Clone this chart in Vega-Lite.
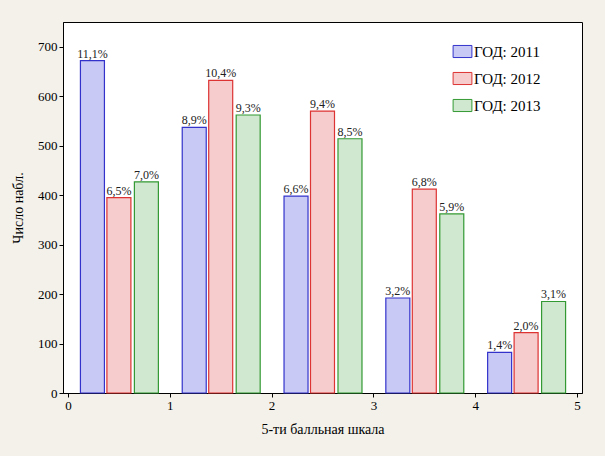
{
  "$schema": "https://vega.github.io/schema/vega-lite/v6.json",
  "width": 519,
  "height": 371,
  "autosize": "none",
  "padding": {"left": 63, "top": 22, "right": 23, "bottom": 63},
  "background": "#f3f1ea",
  "data": {
    "values": [
      {"g": "ГОД: 2011", "x": 0.24, "n": 672, "p": "11,1%"},
      {"g": "ГОД: 2012", "x": 0.5, "n": 395, "p": "6,5%"},
      {"g": "ГОД: 2013", "x": 0.77, "n": 427, "p": "7,0%"},
      {"g": "ГОД: 2011", "x": 1.24, "n": 537, "p": "8,9%"},
      {"g": "ГОД: 2012", "x": 1.5, "n": 632, "p": "10,4%"},
      {"g": "ГОД: 2013", "x": 1.77, "n": 562, "p": "9,3%"},
      {"g": "ГОД: 2011", "x": 2.24, "n": 398, "p": "6,6%"},
      {"g": "ГОД: 2012", "x": 2.5, "n": 570, "p": "9,4%"},
      {"g": "ГОД: 2013", "x": 2.77, "n": 514, "p": "8,5%"},
      {"g": "ГОД: 2011", "x": 3.24, "n": 192, "p": "3,2%"},
      {"g": "ГОД: 2012", "x": 3.5, "n": 412, "p": "6,8%"},
      {"g": "ГОД: 2013", "x": 3.77, "n": 362, "p": "5,9%"},
      {"g": "ГОД: 2011", "x": 4.24, "n": 82, "p": "1,4%"},
      {"g": "ГОД: 2012", "x": 4.5, "n": 122, "p": "2,0%"},
      {"g": "ГОД: 2013", "x": 4.77, "n": 185, "p": "3,1%"}
    ]
  },
  "encoding": {
    "x": {"field": "x", "type": "quantitative", "scale": {"domain": [0, 5], "nice": false},
      "axis": {"title": "5-ти балльная шкала", "values": [0, 1, 2, 3, 4, 5], "grid": false, "labelAngle": 0, "titlePadding": 10}},
    "y": {"field": "n", "type": "quantitative", "scale": {"domain": [0, 750], "nice": false},
      "axis": {"title": "Число набл.", "values": [0, 100, 200, 300, 400, 500, 600, 700], "grid": false, "titlePadding": 12}}
  },
  "layer": [
    {
      "mark": {"type": "bar", "size": 24, "strokeWidth": 1.2},
      "encoding": {
        "fill": {"field": "g", "type": "nominal", "scale": {"range": ["#c9c9f5", "#f7cccc", "#cfe8cf"]},
          "legend": {"orient": "none", "legendX": 392, "legendY": 22, "title": null, "symbolType": "M-1.4,-0.9L1.4,-0.9L1.4,0.9L-1.4,0.9Z", "symbolSize": 180, "labelFont": "Liberation Serif", "labelFontSize": 15, "rowPadding": 10, "symbolStrokeWidth": 1}},
        "stroke": {"field": "g", "type": "nominal", "scale": {"range": ["#3333cc", "#dd3333", "#339933"]}, "legend": null}
      }
    },
    {
      "mark": {"type": "text", "dy": -7, "fontSize": 12, "font": "Liberation Serif", "color": "#222"},
      "encoding": {"text": {"field": "p"}}
    }
  ],
  "config": {
    "font": "Liberation Serif",
    "view": {"fill": "white", "stroke": "black"},
    "axis": {"labelFontSize": 13, "titleFontSize": 14, "titleFontWeight": "normal", "labelColor": "black", "titleColor": "black", "domainColor": "black", "tickColor": "black", "tickSize": 4, "labelFont": "Liberation Serif", "titleFont": "Liberation Serif"},
    "legend": {"labelFont": "Liberation Serif", "labelColor": "black"}
  }
}
